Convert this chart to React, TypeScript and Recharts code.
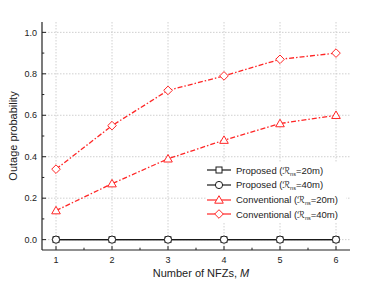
import React from 'react';
import { LineChart, Line, XAxis, YAxis, CartesianGrid } from 'recharts';

const X_VALUES = [1, 2, 3, 4, 5, 6];
const PROPOSED_20 = [0, 0, 0, 0, 0, 0];
const PROPOSED_40 = [0, 0, 0, 0, 0, 0];
const CONV_20 = [0.14, 0.27, 0.39, 0.48, 0.56, 0.6];
const CONV_40 = [0.34, 0.55, 0.72, 0.79, 0.87, 0.9];

const X_MAJOR = [1, 2, 3, 4, 5, 6];
const X_MINOR = [1.5, 2.5, 3.5, 4.5, 5.5];
const Y_MAJOR = [0, 0.2, 0.4, 0.6, 0.8, 1.0];
const Y_MINOR = [0.1, 0.3, 0.5, 0.7, 0.9];
const X_DOMAIN = [0.75, 6.25];
const Y_DOMAIN = [-0.05, 1.05];

const X_TICKS = [...X_MAJOR, ...X_MINOR].sort((a, b) => a - b);
const Y_TICKS = [...Y_MAJOR, ...Y_MINOR].sort((a, b) => a - b);

const data = X_VALUES.map((m, i) => ({
  m,
  p20: PROPOSED_20[i],
  p40: PROPOSED_40[i],
  c20: CONV_20[i],
  c40: CONV_40[i],
}));

const RED = '#ff2626';
const BLACK = '#1a1a1a';
const AXIS = '#222';
const FONT = '"Liberation Sans", Arial, sans-serif';
const MAJOR_LEN = 4;
const MINOR_LEN = 2.3;

const isMajorX = (v: number) => Math.abs(v - Math.round(v)) < 1e-6;
const isMajorY = (v: number) => Math.round(v * 10) % 2 === 0;

const Square = ({ cx, cy, color, s = 3 }: any) => (
  <rect x={cx - s} y={cy - s} width={2 * s} height={2 * s} fill="#fff" stroke={color} strokeWidth={1} />
);
const Circle = ({ cx, cy, color }: any) => (
  <circle cx={cx} cy={cy} r={3.6} fill="#fff" stroke={color} strokeWidth={1} />
);
const Triangle = ({ cx, cy, color }: any) => (
  <polygon
    points={`${cx},${cy - 4.3} ${cx - 4.3},${cy + 3.2} ${cx + 4.3},${cy + 3.2}`}
    fill="#fff"
    stroke={color}
    strokeWidth={1}
  />
);
const Diamond = ({ cx, cy, color }: any) => (
  <polygon
    points={`${cx},${cy - 4.3} ${cx + 4.3},${cy} ${cx},${cy + 4.3} ${cx - 4.3},${cy}`}
    fill="#fff"
    stroke={color}
    strokeWidth={1}
  />
);

const BottomTick = (p: any) => {
  const v = p.payload.value;
  const major = isMajorX(v);
  return (
    <g>
      <line x1={p.x} x2={p.x} y1={p.y} y2={p.y - (major ? MAJOR_LEN : MINOR_LEN)} stroke={AXIS} strokeWidth={1} />
      {major && (
        <text x={p.x} y={p.y + 12.5} textAnchor="middle" fontSize={9} fontFamily={FONT} fill="#222">
          {v}
        </text>
      )}
    </g>
  );
};
const TopTick = (p: any) => {
  const major = isMajorX(p.payload.value);
  return <line x1={p.x} x2={p.x} y1={p.y} y2={p.y + (major ? MAJOR_LEN : MINOR_LEN)} stroke={AXIS} strokeWidth={1} />;
};
const LeftTick = (p: any) => {
  const v = p.payload.value;
  const major = isMajorY(v);
  return (
    <g>
      <line x1={p.x} x2={p.x + (major ? MAJOR_LEN : MINOR_LEN)} y1={p.y} y2={p.y} stroke={AXIS} strokeWidth={1} />
      {major && (
        <text x={p.x - 5} y={p.y + 3.2} textAnchor="end" fontSize={9} fontFamily={FONT} fill="#222">
          {v.toFixed(1)}
        </text>
      )}
    </g>
  );
};
const RightTick = (p: any) => {
  const major = isMajorY(p.payload.value);
  return <line x1={p.x} x2={p.x - (major ? MAJOR_LEN : MINOR_LEN)} y1={p.y} y2={p.y} stroke={AXIS} strokeWidth={1} />;
};

const YTitle = (props: any) => {
  const vb = props.viewBox || {};
  const cx = vb.x + 13;
  const cy = vb.y + vb.height / 2;
  return (
    <text
      x={cx}
      y={cy}
      transform={`rotate(-90, ${cx}, ${cy})`}
      textAnchor="middle"
      dominantBaseline="central"
      fontSize={11}
      fontFamily={FONT}
      fill="#222"
    >
      Outage probability
    </text>
  );
};
const XTitle = (props: any) => {
  const vb = props.viewBox || {};
  const cx = vb.x + vb.width / 2 + 5;
  const y = vb.y + 27;
  return (
    <text x={cx} y={y} textAnchor="middle" fontSize={11} fontFamily={FONT} fill="#222">
      Number of NFZs, <tspan fontStyle="italic">M</tspan>
    </text>
  );
};

const LEGEND = [
  { name: 'Proposed', r: '20m', color: BLACK, Marker: Square },
  { name: 'Proposed', r: '40m', color: BLACK, Marker: Circle },
  { name: 'Conventional', r: '20m', color: RED, Marker: Triangle },
  { name: 'Conventional', r: '40m', color: RED, Marker: Diamond },
];

const Legend = () => (
  <div
    style={{
      position: 'absolute',
      left: 207,
      top: 163,
      width: 139,
      height: 60,
      background: '#fff',
      fontFamily: FONT,
      fontSize: 9.5,
      color: '#222',
    }}
  >
    {LEGEND.map((it, i) => (
      <div key={i} style={{ position: 'absolute', left: 0, top: i * 14.8, height: 14, display: 'flex', alignItems: 'center', whiteSpace: 'nowrap' }}>
        <svg width={26} height={14} style={{ display: 'block' }}>
          <line x1={0} x2={24} y1={7} y2={7} stroke={it.color} strokeWidth={1.2} />
          <it.Marker cx={12} cy={7} color={it.color} />
        </svg>
        <span style={{ marginLeft: 3 }}>
          {it.name} (
          <span style={{ fontFamily: '"DejaVu Sans", sans-serif', fontWeight: 'normal' }}>ℛ</span>
          <span style={{ fontSize: 5.5, position: 'relative', top: 2 }}>ns</span>={it.r})
        </span>
      </div>
    ))}
  </div>
);

export default function App() {
  return (
    <div style={{ position: 'absolute', left: 0, top: 0, width: 374, height: 288, background: '#fff' }}>
      <LineChart width={374} height={288} data={data} margin={{ top: 22, right: 24, bottom: 0, left: 0 }}>
        <CartesianGrid
          xAxisId="b"
          yAxisId="l"
          stroke="#c4c4c4"
          strokeDasharray="1.5 1.5"
          strokeWidth={0.8}
          verticalValues={X_MAJOR}
          horizontalValues={Y_MAJOR}
        />
        <XAxis
          xAxisId="b"
          dataKey="m"
          type="number"
          domain={X_DOMAIN}
          allowDataOverflow
          ticks={X_TICKS}
          interval={0}
          tickSize={0}
          tickMargin={0}
          tick={BottomTick}
          height={38}
          stroke={AXIS}
          axisLine={{ stroke: AXIS, strokeWidth: 1.2 }}
          label={{ content: XTitle }}
        />
        <XAxis
          xAxisId="t"
          orientation="top"
          dataKey="m"
          type="number"
          domain={X_DOMAIN}
          allowDataOverflow
          ticks={X_TICKS}
          interval={0}
          tickSize={0}
          tickMargin={0}
          tick={TopTick}
          height={0}
          axisLine={{ stroke: AXIS, strokeWidth: 1.2 }}
        />
        <YAxis
          yAxisId="l"
          type="number"
          domain={Y_DOMAIN}
          allowDataOverflow
          ticks={Y_TICKS}
          interval={0}
          tickSize={0}
          tickMargin={0}
          tick={LeftTick}
          width={42}
          axisLine={{ stroke: AXIS, strokeWidth: 1.2 }}
          label={{ content: YTitle }}
        />
        <YAxis
          yAxisId="r"
          orientation="right"
          type="number"
          domain={Y_DOMAIN}
          allowDataOverflow
          ticks={Y_TICKS}
          interval={0}
          tickSize={0}
          tickMargin={0}
          tick={RightTick}
          width={0}
          axisLine={{ stroke: AXIS, strokeWidth: 1.2 }}
        />
        <Line
          xAxisId="t"
          yAxisId="r"
          dataKey="c20"
          stroke="none"
          dot={false}
          activeDot={false}
          legendType="none"
          isAnimationActive={false}
        />
        <Line
          xAxisId="b"
          yAxisId="l"
          dataKey="c40"
          stroke={RED}
          strokeWidth={1.3}
          strokeDasharray="5 2 1.5 2"
          dot={(p: any) => <Diamond key={`d${p.index}`} cx={p.cx} cy={p.cy} color={RED} />}
          activeDot={false}
          isAnimationActive={false}
        />
        <Line
          xAxisId="b"
          yAxisId="l"
          dataKey="c20"
          stroke={RED}
          strokeWidth={1.3}
          strokeDasharray="5 2 1.5 2"
          dot={(p: any) => <Triangle key={`t${p.index}`} cx={p.cx} cy={p.cy} color={RED} />}
          activeDot={false}
          isAnimationActive={false}
        />
        <Line
          xAxisId="b"
          yAxisId="l"
          dataKey="p20"
          stroke={BLACK}
          strokeWidth={1.3}
          dot={(p: any) => <Square key={`s${p.index}`} cx={p.cx} cy={p.cy} color={BLACK} s={2.9} />}
          activeDot={false}
          isAnimationActive={false}
        />
        <Line
          xAxisId="b"
          yAxisId="l"
          dataKey="p40"
          stroke={BLACK}
          strokeWidth={1.3}
          dot={(p: any) => <Circle key={`c${p.index}`} cx={p.cx} cy={p.cy} color={BLACK} />}
          activeDot={false}
          isAnimationActive={false}
        />
      </LineChart>
      <Legend />
    </div>
  );
}
